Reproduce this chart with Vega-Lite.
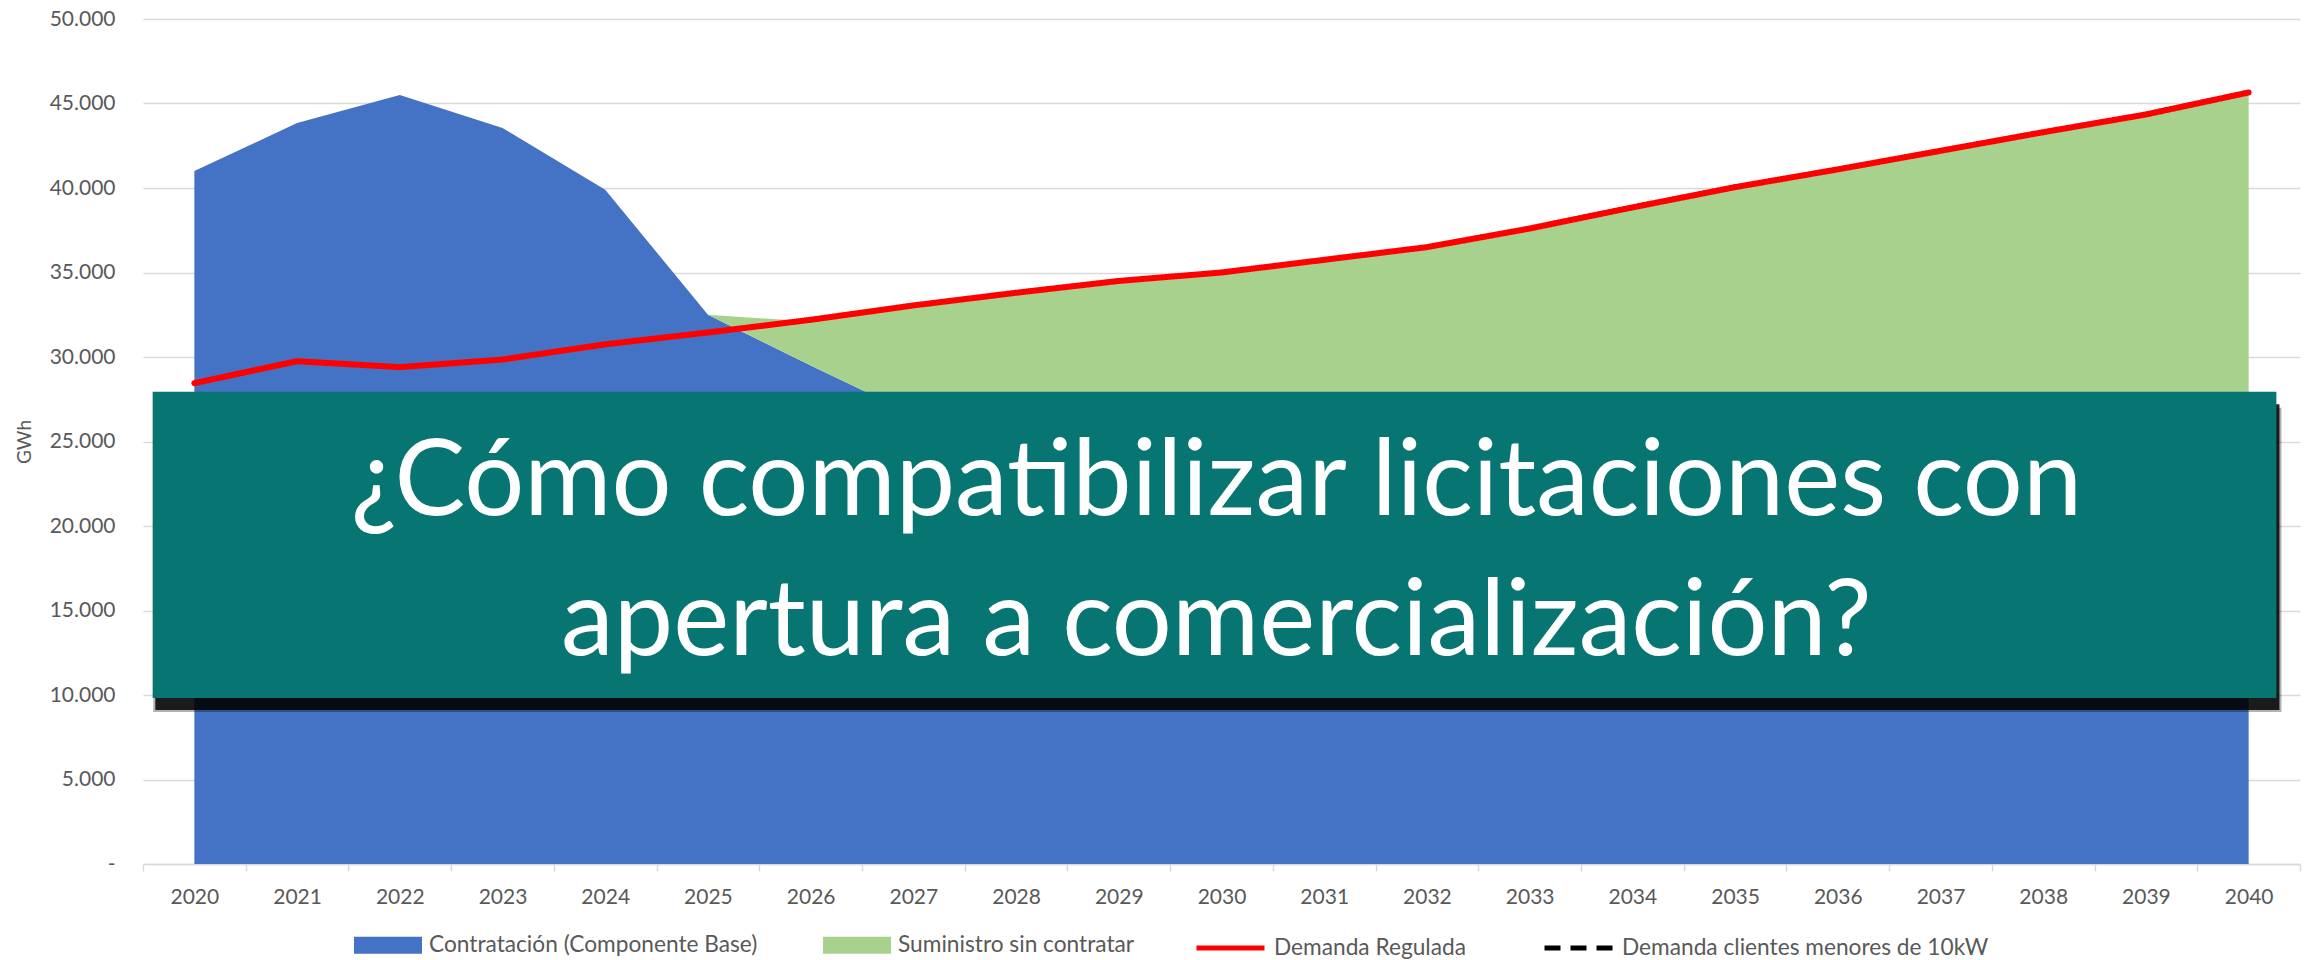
{
  "$schema": "https://vega.github.io/schema/vega-lite/v6.json",
  "width": 2157,
  "height": 845,
  "autosize": {"type": "none"},
  "padding": {"left": 143, "top": 19, "right": 5, "bottom": 96},
  "background": "white",
  "config": {
    "view": {"stroke": null},
    "font": "Lato",
    "axisY": {
      "grid": true, "gridColor": "#d9d9d9", "gridWidth": 1.5,
      "domain": false, "ticks": false, "tickSize": 0,
      "labelPadding": 28, "labelFont": "Lato", "labelFontSize": 21, "labelColor": "#595959",
      "titleFont": "Lato", "titleFontSize": 19, "titleFontWeight": "normal", "titleColor": "#595959",
      "titlePadding": 15
    }
  },
  "data": {
    "values": [
      {"year": 2020, "serie": "Contratación (Componente Base)", "value": 41000},
      {"year": 2021, "serie": "Contratación (Componente Base)", "value": 43850},
      {"year": 2022, "serie": "Contratación (Componente Base)", "value": 45500},
      {"year": 2023, "serie": "Contratación (Componente Base)", "value": 43550},
      {"year": 2024, "serie": "Contratación (Componente Base)", "value": 39900},
      {"year": 2025, "serie": "Contratación (Componente Base)", "value": 32500},
      {"year": 2026, "serie": "Contratación (Componente Base)", "value": 29500},
      {"year": 2027, "serie": "Contratación (Componente Base)", "value": 26600},
      {"year": 2028, "serie": "Contratación (Componente Base)", "value": 25000},
      {"year": 2029, "serie": "Contratación (Componente Base)", "value": 24000},
      {"year": 2030, "serie": "Contratación (Componente Base)", "value": 22600},
      {"year": 2031, "serie": "Contratación (Componente Base)", "value": 21500},
      {"year": 2032, "serie": "Contratación (Componente Base)", "value": 20400},
      {"year": 2033, "serie": "Contratación (Componente Base)", "value": 19500},
      {"year": 2034, "serie": "Contratación (Componente Base)", "value": 18400},
      {"year": 2035, "serie": "Contratación (Componente Base)", "value": 17500},
      {"year": 2036, "serie": "Contratación (Componente Base)", "value": 16400},
      {"year": 2037, "serie": "Contratación (Componente Base)", "value": 15500},
      {"year": 2038, "serie": "Contratación (Componente Base)", "value": 14400},
      {"year": 2039, "serie": "Contratación (Componente Base)", "value": 13500},
      {"year": 2040, "serie": "Contratación (Componente Base)", "value": 12500},
      {"year": 2020, "serie": "Suministro sin contratar", "value": 0},
      {"year": 2021, "serie": "Suministro sin contratar", "value": 0},
      {"year": 2022, "serie": "Suministro sin contratar", "value": 0},
      {"year": 2023, "serie": "Suministro sin contratar", "value": 0},
      {"year": 2024, "serie": "Suministro sin contratar", "value": 0},
      {"year": 2025, "serie": "Suministro sin contratar", "value": 0},
      {"year": 2026, "serie": "Suministro sin contratar", "value": 2600},
      {"year": 2027, "serie": "Suministro sin contratar", "value": 6300},
      {"year": 2028, "serie": "Suministro sin contratar", "value": 8650},
      {"year": 2029, "serie": "Suministro sin contratar", "value": 10350},
      {"year": 2030, "serie": "Suministro sin contratar", "value": 12250},
      {"year": 2031, "serie": "Suministro sin contratar", "value": 14100},
      {"year": 2032, "serie": "Suministro sin contratar", "value": 15950},
      {"year": 2033, "serie": "Suministro sin contratar", "value": 17950},
      {"year": 2034, "serie": "Suministro sin contratar", "value": 20300},
      {"year": 2035, "serie": "Suministro sin contratar", "value": 22400},
      {"year": 2036, "serie": "Suministro sin contratar", "value": 24550},
      {"year": 2037, "serie": "Suministro sin contratar", "value": 26550},
      {"year": 2038, "serie": "Suministro sin contratar", "value": 28750},
      {"year": 2039, "serie": "Suministro sin contratar", "value": 30700},
      {"year": 2040, "serie": "Suministro sin contratar", "value": 33000},
      {"year": 2020, "serie": "Demanda Regulada", "value": 28450},
      {"year": 2021, "serie": "Demanda Regulada", "value": 29750},
      {"year": 2022, "serie": "Demanda Regulada", "value": 29400},
      {"year": 2023, "serie": "Demanda Regulada", "value": 29850},
      {"year": 2024, "serie": "Demanda Regulada", "value": 30750},
      {"year": 2025, "serie": "Demanda Regulada", "value": 31450},
      {"year": 2026, "serie": "Demanda Regulada", "value": 32200},
      {"year": 2027, "serie": "Demanda Regulada", "value": 33050},
      {"year": 2028, "serie": "Demanda Regulada", "value": 33800},
      {"year": 2029, "serie": "Demanda Regulada", "value": 34500},
      {"year": 2030, "serie": "Demanda Regulada", "value": 35000},
      {"year": 2031, "serie": "Demanda Regulada", "value": 35750},
      {"year": 2032, "serie": "Demanda Regulada", "value": 36500},
      {"year": 2033, "serie": "Demanda Regulada", "value": 37600},
      {"year": 2034, "serie": "Demanda Regulada", "value": 38850},
      {"year": 2035, "serie": "Demanda Regulada", "value": 40050},
      {"year": 2036, "serie": "Demanda Regulada", "value": 41100},
      {"year": 2037, "serie": "Demanda Regulada", "value": 42200},
      {"year": 2038, "serie": "Demanda Regulada", "value": 43300},
      {"year": 2039, "serie": "Demanda Regulada", "value": 44350},
      {"year": 2040, "serie": "Demanda Regulada", "value": 45650},
      {"year": 2020, "serie": "Demanda clientes menores de 10kW", "value": 14100},
      {"year": 2021, "serie": "Demanda clientes menores de 10kW", "value": 14500},
      {"year": 2022, "serie": "Demanda clientes menores de 10kW", "value": 14300},
      {"year": 2023, "serie": "Demanda clientes menores de 10kW", "value": 14600},
      {"year": 2024, "serie": "Demanda clientes menores de 10kW", "value": 15000},
      {"year": 2025, "serie": "Demanda clientes menores de 10kW", "value": 15300},
      {"year": 2026, "serie": "Demanda clientes menores de 10kW", "value": 15600},
      {"year": 2027, "serie": "Demanda clientes menores de 10kW", "value": 15900},
      {"year": 2028, "serie": "Demanda clientes menores de 10kW", "value": 16200},
      {"year": 2029, "serie": "Demanda clientes menores de 10kW", "value": 16500},
      {"year": 2030, "serie": "Demanda clientes menores de 10kW", "value": 16750},
      {"year": 2031, "serie": "Demanda clientes menores de 10kW", "value": 17100},
      {"year": 2032, "serie": "Demanda clientes menores de 10kW", "value": 17450},
      {"year": 2033, "serie": "Demanda clientes menores de 10kW", "value": 17900},
      {"year": 2034, "serie": "Demanda clientes menores de 10kW", "value": 18400},
      {"year": 2035, "serie": "Demanda clientes menores de 10kW", "value": 18900},
      {"year": 2036, "serie": "Demanda clientes menores de 10kW", "value": 19350},
      {"year": 2037, "serie": "Demanda clientes menores de 10kW", "value": 19850},
      {"year": 2038, "serie": "Demanda clientes menores de 10kW", "value": 20350},
      {"year": 2039, "serie": "Demanda clientes menores de 10kW", "value": 20850},
      {"year": 2040, "serie": "Demanda clientes menores de 10kW", "value": 21400}
    ]
  },
  "resolve": {"axis": {"x": "independent", "y": "shared"}},
  "layer": [
    {
      "transform": [{"filter": {"field": "serie", "oneOf": ["Contratación (Componente Base)", "Suministro sin contratar"]}}],
      "mark": {"type": "area", "opacity": 1, "interpolate": "linear"},
      "encoding": {
        "x": {
          "field": "year", "type": "quantitative",
          "scale": {"domain": [2019.5, 2040.5], "nice": false, "zero": false},
          "axis": {
            "orient": "bottom",
            "values": [2020, 2021, 2022, 2023, 2024, 2025, 2026, 2027, 2028, 2029, 2030, 2031, 2032, 2033, 2034, 2035, 2036, 2037, 2038, 2039, 2040],
            "format": "d", "ticks": false, "tickSize": 0, "domain": false, "grid": false,
            "labelPadding": 22, "labelFont": "Lato", "labelFontSize": 21, "labelColor": "#595959",
            "labelFlush": false, "labelOverlap": false, "title": null
          }
        },
        "y": {
          "field": "value", "type": "quantitative", "stack": "zero",
          "scale": {"domain": [0, 50000], "nice": false},
          "title": "GWh",
          "axis": {
            "orient": "left",
            "values": [0, 5000, 10000, 15000, 20000, 25000, 30000, 35000, 40000, 45000, 50000],
            "labelExpr": "datum.value == 0 ? '-' : replace(format(datum.value, ','), ',', '.')",
            "title": "GWh"
          }
        },
        "fill": {
          "field": "serie", "type": "nominal",
          "scale": {"domain": ["Contratación (Componente Base)", "Suministro sin contratar"], "range": ["#4472C4", "#A9D18E"]},
          "legend": {
            "orient": "none", "legendX": 211, "legendY": 892, "direction": "horizontal", "title": null,
            "symbolType": "M-1,-0.25H1V0.25H-1Z", "symbolSize": 4624, "symbolStrokeWidth": 0,
            "labelFont": "Lato", "labelFontSize": 22.7, "labelColor": "#595959", "labelOffset": 7,
            "columnPadding": 65, "labelLimit": 600
          }
        },
        "order": {"field": "serie", "sort": "ascending"}
      }
    },
    {
      "transform": [{"filter": {"field": "serie", "oneOf": ["Demanda Regulada", "Demanda clientes menores de 10kW"]}}],
      "mark": {"type": "line", "strokeWidth": 6, "strokeCap": "round", "strokeJoin": "round"},
      "encoding": {
        "x": {
          "field": "year", "type": "quantitative",
          "axis": {
            "orient": "bottom",
            "values": [2019.5, 2020.5, 2021.5, 2022.5, 2023.5, 2024.5, 2025.5, 2026.5, 2027.5, 2028.5, 2029.5, 2030.5, 2031.5, 2032.5, 2033.5, 2034.5, 2035.5, 2036.5, 2037.5, 2038.5, 2039.5, 2040.5],
            "labels": false, "ticks": true, "tickSize": 7, "tickColor": "#d9d9d9", "tickWidth": 1.5,
            "domain": true, "domainColor": "#d9d9d9", "domainWidth": 1.5, "grid": false, "title": null
          }
        },
        "y": {"field": "value", "type": "quantitative", "title": "GWh"},
        "stroke": {
          "field": "serie", "type": "nominal",
          "scale": {"domain": ["Demanda Regulada", "Demanda clientes menores de 10kW"], "range": ["#FF0000", "#000000"]},
          "legend": {
            "orient": "none", "legendX": 1051, "legendY": 892, "direction": "horizontal", "title": null,
            "symbolType": "stroke", "symbolSize": 4624, "symbolStrokeWidth": 5,
            "labelFont": "Lato", "labelFontSize": 22.7, "labelColor": "#595959", "labelOffset": 7,
            "columnPadding": 68, "labelLimit": 600
          }
        },
        "strokeDash": {
          "field": "serie", "type": "nominal",
          "scale": {"domain": ["Demanda Regulada", "Demanda clientes menores de 10kW"], "range": [[1, 0], [16, 10]]},
          "legend": {
            "orient": "none", "legendX": 1051, "legendY": 892, "direction": "horizontal", "title": null,
            "symbolType": "stroke", "symbolSize": 4624, "symbolStrokeWidth": 5,
            "labelFont": "Lato", "labelFontSize": 22.7, "labelColor": "#595959", "labelOffset": 7,
            "columnPadding": 68, "labelLimit": 600
          }
        }
      }
    },
    {
      "data": {"values": [{}]},
      "mark": {"type": "rect", "fill": "#000000", "opacity": 0.3},
      "encoding": {
        "x": {"datum": 2019.6, "type": "quantitative", "axis": null},
        "x2": {"datum": 2040.32},
        "y": {"datum": 27000, "type": "quantitative", "title": "GWh"},
        "y2": {"datum": 8990}
      }
    },
    {
      "data": {"values": [{}]},
      "mark": {"type": "rect", "fill": "#000000", "opacity": 0.85},
      "encoding": {
        "x": {"datum": 2019.62, "type": "quantitative", "axis": null},
        "x2": {"datum": 2040.3},
        "y": {"datum": 27200, "type": "quantitative", "title": "GWh"},
        "y2": {"datum": 9110}
      }
    },
    {
      "data": {"values": [{}]},
      "mark": {"type": "rect", "fill": "#077572", "opacity": 1},
      "encoding": {
        "x": {"datum": 2019.594, "type": "quantitative", "axis": null},
        "x2": {"datum": 2040.27},
        "y": {"datum": 27950, "type": "quantitative", "title": "GWh"},
        "y2": {"datum": 9820}
      }
    },
    {
      "data": {"values": [{}]},
      "mark": {
        "type": "text", "align": "center", "baseline": "alphabetic",
        "font": "Lato", "fontSize": 106, "lineHeight": 140, "fill": "#FFFFFF",
        "text": ["¿Cómo compatibilizar licitaciones con", "apertura a comercialización?"]
      },
      "encoding": {
        "x": {"datum": 2029.95, "type": "quantitative", "axis": null},
        "y": {"datum": 20650, "type": "quantitative", "title": "GWh"}
      }
    }
  ]
}
